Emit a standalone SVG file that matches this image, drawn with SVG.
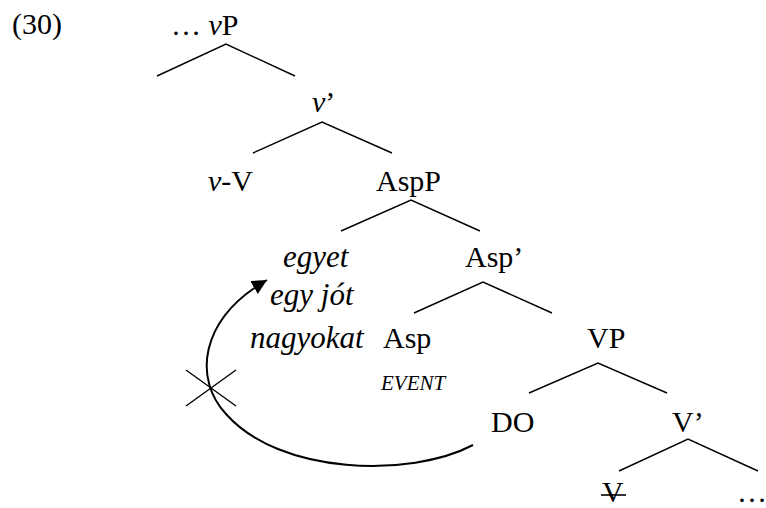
<svg xmlns="http://www.w3.org/2000/svg" width="766" height="508" viewBox="0 0 766 508">
<defs>
<style>
.t{font-family:'Liberation Serif','Times New Roman','DejaVu Serif',serif;font-size:30px;fill:#000}
.i{font-style:italic}
.s{font-size:31px}
.br{fill:none;stroke:#000;stroke-width:1.4}
.mv{fill:none;stroke:#000;stroke-width:2}
</style>
<marker id="ah" markerWidth="17" markerHeight="15" refX="15" refY="7.5" orient="auto" markerUnits="userSpaceOnUse">
<path d="M0,0 L15,7.5 L0,15 Z" fill="#000"/>
</marker>
</defs>
<rect width="766" height="508" fill="#fff"/>
<text class="t" x="12" y="34">(30)</text>
<g id="vP"><text class="t" x="171" y="35">… <tspan class="i">v</tspan>P</text></g>
<g id="vbar"><text class="t" x="312" y="112"><tspan class="i">v</tspan>’</text></g>
<g id="vV"><text class="t" x="208" y="191"><tspan class="i">v</tspan>-V</text></g>
<g id="AspP"><text class="t" x="376" y="191">AspP</text></g>
<g id="spec"><text class="t i s" x="283" y="267">egyet</text><text class="t i s" x="270" y="305">egy jót</text><text class="t i s" x="250" y="348">nagyokat</text></g>
<g id="Aspbar"><text class="t" x="465" y="267">Asp’</text></g>
<g id="Asp"><text class="t" x="383" y="348">Asp</text><text class="t i" x="381" y="390" style="font-size:21px">EVENT</text></g>
<g id="VP"><text class="t" x="587" y="348">VP</text></g>
<g id="DO"><text class="t" x="491" y="432">DO</text></g>
<g id="Vbar"><text class="t" x="672" y="432">V’</text></g>
<g id="V"><text class="t" x="602" y="502">V</text><line x1="601" y1="495" x2="626" y2="495" stroke="#000" stroke-width="1.6"/></g>
<g id="dots"><text class="t" x="737" y="502">…</text></g>
<g id="connectors">
<polyline class="br" points="157,76 226,44 295,76"/>
<polyline class="br" points="253,153 322,122 392,153"/>
<polyline class="br" points="341,231 411,200 480,231"/>
<polyline class="br" points="414,313 483,282 552,313"/>
<polyline class="br" points="529,393 598,363 667,393"/>
<polyline class="br" points="619,471 688,439 758,471"/>
<path class="mv" d="M473,445 C410,478 280,475 226,414 C194,380 198,320 267,280" marker-end="url(#ah)"/>
<line class="br" x1="186" y1="370" x2="236" y2="406"/>
<line class="br" x1="186" y1="406" x2="236" y2="370"/>
</g>
</svg>
